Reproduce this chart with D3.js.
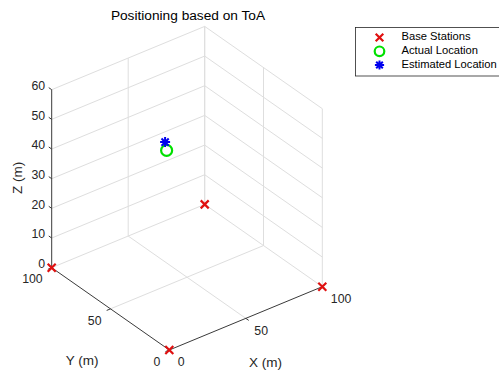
<!DOCTYPE html>
<html>
<head>
<meta charset="utf-8">
<script src="https://cdn.jsdelivr.net/npm/d3@7"></script>
<style>
  html, body { margin: 0; padding: 0; background: #fff; }
  svg { display: block; font-family: "Liberation Sans", Arial, Helvetica, sans-serif; }
</style>
</head>
<body>
<svg id="chart" width="499" height="371"></svg>
<script>
// Base station coordinates (m)
const stationX = [0, 100, 0, 100];
const stationY = [0, 0, 100, 100];
const stationZ = [0, 0, 0, 0];

// True and estimated target position (m)
const actualPos = [29, 40, 50];
const estimatedPos = [28, 40, 53];

// Axis ticks
const xTicks = [0, 50, 100];
const yTicks = [0, 50, 100];
const zTicks = [0, 10, 20, 30, 40, 50, 60];

const legendLabels = ["Base Stations", "Actual Location", "Estimated Location"];

const svg = d3.select("#chart");
const textColor = "#262626";
const gridColor = "#dedede";
const axisColor = "#3a3a3a";

// Oblique 3D projection: each data axis contributes a screen offset
const origin = [169.3, 350];
const xH = d3.scaleLinear().domain([0, 100]).range([0, 153]);
const xV = d3.scaleLinear().domain([0, 100]).range([0, -63.3]);
const yH = d3.scaleLinear().domain([0, 100]).range([0, -117.6]);
const yV = d3.scaleLinear().domain([0, 100]).range([0, -82.3]);
const zV = d3.scaleLinear().domain([0, 60]).range([0, -178]);

function project(x, y, z) {
  return [origin[0] + xH(x) + yH(y), origin[1] + xV(x) + yV(y) + zV(z)];
}

const xMax = 100, yMax = 100, zMax = 60;

function seg(g, a, b, color, width) {
  const p = project(...a), q = project(...b);
  g.append("line")
    .attr("x1", p[0]).attr("y1", p[1])
    .attr("x2", q[0]).attr("y2", q[1])
    .attr("stroke", color)
    .attr("stroke-width", width);
}

// Grid on the floor and the two back walls
const grid = svg.append("g");
// floor
xTicks.filter(v => v > 0).forEach(v => seg(grid, [v, 0, 0], [v, yMax, 0], gridColor, 1));
yTicks.filter(v => v > 0).forEach(v => seg(grid, [0, v, 0], [xMax, v, 0], gridColor, 1));
// wall y = max
xTicks.filter(v => v > 0).forEach(v => seg(grid, [v, yMax, 0], [v, yMax, zMax], gridColor, 1));
zTicks.filter(v => v > 0).forEach(v => seg(grid, [0, yMax, v], [xMax, yMax, v], gridColor, 1));
// wall x = max
yTicks.forEach(v => seg(grid, [xMax, v, 0], [xMax, v, zMax], gridColor, 1));
zTicks.filter(v => v > 0).forEach(v => seg(grid, [xMax, 0, v], [xMax, yMax, v], gridColor, 1));

// Axis lines
const axes = svg.append("g");
seg(axes, [0, 0, 0], [xMax, 0, 0], axisColor, 1);
seg(axes, [0, 0, 0], [0, yMax, 0], axisColor, 1);
seg(axes, [0, yMax, 0], [0, yMax, zMax], axisColor, 1);

// Tick marks
const tickLen = 2.5;
xTicks.forEach(v => {
  const p = project(v, 0, 0), q = project(v, -tickLen, 0);
  axes.append("line").attr("x1", p[0]).attr("y1", p[1]).attr("x2", q[0]).attr("y2", q[1])
    .attr("stroke", axisColor).attr("stroke-width", 1);
});
yTicks.forEach(v => {
  const p = project(0, v, 0), q = project(-tickLen, v, 0);
  axes.append("line").attr("x1", p[0]).attr("y1", p[1]).attr("x2", q[0]).attr("y2", q[1])
    .attr("stroke", axisColor).attr("stroke-width", 1);
});
zTicks.forEach(v => {
  const p = project(0, yMax, v), q = project(0, yMax + tickLen, v);
  axes.append("line").attr("x1", p[0]).attr("y1", p[1]).attr("x2", q[0]).attr("y2", q[1])
    .attr("stroke", axisColor).attr("stroke-width", 1);
});

// Tick labels
const labels = svg.append("g").attr("fill", textColor).attr("font-size", 12.3);
xTicks.forEach(v => {
  const p = project(v, 0, 0);
  labels.append("text").attr("x", p[0] + 8.5).attr("y", p[1] + 13)
    .attr("dominant-baseline", "middle").attr("text-anchor", "start").text(v);
});
yTicks.forEach(v => {
  const p = project(0, v, 0);
  labels.append("text").attr("x", p[0] - 9).attr("y", p[1] + 12.5)
    .attr("dominant-baseline", "middle").attr("text-anchor", "end").text(v);
});
zTicks.forEach(v => {
  const p = project(0, yMax, v);
  labels.append("text").attr("x", p[0] - 6.5).attr("y", p[1] - 3)
    .attr("dominant-baseline", "middle").attr("text-anchor", "end").text(v);
});

// Axis titles
const titles = svg.append("g").attr("fill", textColor).attr("font-size", 13.5);
titles.append("text").attr("x", 265.5).attr("y", 363)
  .attr("dominant-baseline", "middle").attr("text-anchor", "middle").text("X (m)");
titles.append("text").attr("x", 82).attr("y", 361.5)
  .attr("dominant-baseline", "middle").attr("text-anchor", "middle").text("Y (m)");
titles.append("text").attr("transform", "translate(18,178) rotate(-90)")
  .attr("dominant-baseline", "middle").attr("text-anchor", "middle").text("Z (m)");

// Chart title
svg.append("text").attr("x", 188).attr("y", 16)
  .attr("dominant-baseline", "middle").attr("text-anchor", "middle")
  .attr("font-size", 13.7).attr("fill", "#000").text("Positioning based on ToA");

// Marker shapes
function drawCross(g, cx, cy, r, color) {
  g.append("path")
    .attr("d", `M${cx - r},${cy - r}L${cx + r},${cy + r}M${cx - r},${cy + r}L${cx + r},${cy - r}`)
    .attr("stroke", color).attr("stroke-width", 2.2).attr("fill", "none");
}
function drawCircle(g, cx, cy, r, color) {
  g.append("circle").attr("cx", cx).attr("cy", cy).attr("r", r)
    .attr("stroke", color).attr("stroke-width", 2.2).attr("fill", "none");
}
function drawStar(g, cx, cy, r, color) {
  const d = r * 0.72;
  g.append("path")
    .attr("d", `M${cx - r},${cy}L${cx + r},${cy}M${cx},${cy - r}L${cx},${cy + r}` +
               `M${cx - d},${cy - d}L${cx + d},${cy + d}M${cx - d},${cy + d}L${cx + d},${cy - d}`)
    .attr("stroke", color).attr("stroke-width", 2).attr("fill", "none");
}

// Data marks
const marks = svg.append("g");
stationX.forEach((x, i) => {
  const p = project(x, stationY[i], stationZ[i]);
  drawCross(marks, p[0], p[1], 4, "#e01010");
});
const pa = project(...actualPos);
drawCircle(marks, pa[0], pa[1], 5.5, "#00e000");
const pe = project(...estimatedPos);
drawStar(marks, pe[0], pe[1], 5, "#0000ee");

// Legend
const legend = svg.append("g");
legend.append("rect").attr("x", 355.5).attr("y", 27.5).attr("width", 160).attr("height", 48.5)
  .attr("fill", "#fff").attr("stroke", "#262626").attr("stroke-width", 0.8);
const rowY = [37.5, 51.3, 65];
const markerFns = [
  (y) => drawCross(legend, 379.5, y, 3.8, "#e01010"),
  (y) => drawCircle(legend, 379.5, y, 4.8, "#00e000"),
  (y) => drawStar(legend, 379.5, y, 4.6, "#0000ee")
];
legendLabels.forEach((lab, i) => {
  markerFns[i](rowY[i]);
  legend.append("text").attr("x", 401.5).attr("y", rowY[i])
    .attr("dominant-baseline", "middle").attr("font-size", 11.2).attr("fill", "#000").text(lab);
});
</script>
</body>
</html>
